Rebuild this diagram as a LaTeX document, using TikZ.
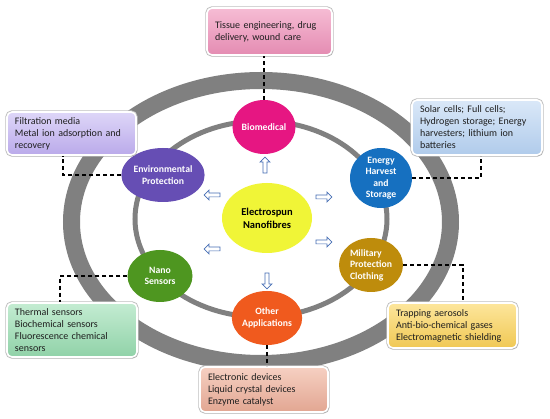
\documentclass[tikz,border=0pt]{standalone}
\usepackage{fontspec}
\setmainfont{Carlito}
\usetikzlibrary{shapes.geometric,shapes.arrows,shadows}
\definecolor{ringgray}{RGB}{128,128,128}
\definecolor{cBio}{RGB}{230,22,130}
\definecolor{cEnv}{RGB}{102,78,180}
\definecolor{cEne}{RGB}{22,112,192}
\definecolor{cMil}{RGB}{190,140,12}
\definecolor{cNano}{RGB}{78,150,32}
\definecolor{cOther}{RGB}{240,90,30}
\definecolor{cCenter}{RGB}{240,245,55}
\definecolor{arrowblue}{RGB}{70,110,180}
\definecolor{txt}{RGB}{30,30,30}
\begin{document}
\begin{tikzpicture}[x=1pt,y=-1pt,
  blob/.style={ellipse, inner sep=0pt, text=white, align=center,
    font=\fontsize{9.7}{11.5}\selectfont\bfseries},
  infobox/.style={rounded corners=5pt, draw=white, line width=1.6pt,
    inner xsep=8pt, inner ysep=0pt, align=left, text=txt,
    font=\fontsize{10}{12}\selectfont,
    preaction={draw=black!25, line width=3.4pt},
    drop shadow={shadow xshift=0.8pt, shadow yshift=-1.4pt, opacity=0.3, fill=gray}},
  blockarrow/.style={single arrow, draw=arrowblue, fill=white, line width=0.7pt,
    minimum height=16pt, minimum width=10pt, single arrow head extend=2.2pt, inner sep=1pt},
  link/.style={black, line width=1.1pt, dash pattern=on 4pt off 3pt}]
\useasboundingbox (0,0) rectangle (550,419);
\fill[white] (0,0) rectangle (550,419);

% rings
\draw[ringgray, line width=17pt] (261,222) ellipse [x radius=189.5, y radius=141.5];
\draw[ringgray, line width=5pt] (261,219) ellipse [x radius=126, y radius=98];

% application nodes
\node[blob, fill=cBio, minimum width=58pt, minimum height=54pt] (bio) at (264,127) {Biomedical};
\node[blob, fill=cEnv, minimum width=63pt, minimum height=54pt] (env) at (163,175) {Environmental\\Protection};
\node[blob, fill=cEne, minimum width=62pt, minimum height=58pt] (ene) at (381,178) {Energy\\Harvest\\and\\Storage};
\node[blob, fill=cMil, minimum width=64pt, minimum height=54pt, align=left] (mil) at (371,265) {Military\\Protection\\Clothing};
\node[blob, fill=cNano, minimum width=65pt, minimum height=52pt] (nano) at (160,276) {Nano\\Sensors};
\node[blob, fill=cOther, minimum width=64pt, minimum height=54pt] (other) at (267,318) {Other\\Applications};
\node[ellipse, fill=cCenter, inner sep=0pt, minimum width=90pt, minimum height=70pt, align=center,
  font=\fontsize{10.5}{13}\selectfont\bfseries] (center) at (267,218) {Electrospun\\Nanofibres};

% block arrows
\node[blockarrow, shape border rotate=90] (a1) at (265,166) {};
\node[blockarrow, shape border rotate=270] (a2) at (267,280) {};
\node[blockarrow, shape border rotate=150] (a3) at (213,195) {};
\node[blockarrow, shape border rotate=205] (a4) at (213,249) {};
\node[blockarrow, shape border rotate=15] (a5) at (323,197) {};
\node[blockarrow, shape border rotate=-30] (a6) at (323,242) {};

% info boxes
\node[infobox, top color={rgb,255:red,246;green,188;blue,212}, bottom color={rgb,255:red,228;green,140;blue,178},
  minimum width=125pt, minimum height=47pt, text width=109pt] (bbio) at (269.5,31.5)
  {Tissue engineering, drug\\delivery, wound care};
\node[infobox, top color={rgb,255:red,222;green,214;blue,248}, bottom color={rgb,255:red,186;green,170;blue,234},
  minimum width=129pt, minimum height=43pt, text width=113pt] (benv) at (71.5,133.5)
  {Filtration media\\Metal ion adsorption and\\recovery};
\node[infobox, top color={rgb,255:red,218;green,232;blue,248}, bottom color={rgb,255:red,176;green,203;blue,235},
  minimum width=130pt, minimum height=55pt, text width=114pt] (bene) at (477,127.5)
  {Solar cells; Full cells;\\Hydrogen storage; Energy\\harvesters; lithium ion\\batteries};
\node[infobox, top color={rgb,255:red,253;green,230;blue,156}, bottom color={rgb,255:red,240;green,200;blue,84},
  minimum width=129pt, minimum height=45pt, text width=113pt] (bmil) at (452.5,325.5)
  {Trapping aerosols\\Anti-bio-chemical gases\\Electromagnetic shielding};
\node[infobox, top color={rgb,255:red,196;green,236;blue,210}, bottom color={rgb,255:red,144;green,210;blue,168},
  minimum width=130pt, minimum height=54pt, text width=114pt] (bnano) at (72,330)
  {Thermal sensors\\Biochemical sensors\\Fluorescence chemical\\sensors};
\node[infobox, top color={rgb,255:red,246;green,208;blue,194}, bottom color={rgb,255:red,226;green,166;blue,146},
  minimum width=128pt, minimum height=45pt, text width=112pt] (bother) at (264,389.5)
  {Electronic devices\\Liquid crystal devices\\Enzyme catalyst};

% dashed links
\coordinate (kenv) at ([xshift=-8.5pt]benv.south);
\coordinate (kene) at ([xshift=4pt]bene.south);
\coordinate (kmil) at ([xshift=10.5pt]bmil.north);
\coordinate (knano) at ([xshift=-12pt]bnano.north);
\draw[link] (bio.north) -- (bio.north |- bbio.south);
\draw[link] (env.west) -| (kenv);
\draw[link] (ene.east) -| (kene);
\draw[link] (mil.east) -| (kmil);
\draw[link] (nano.west) -| (knano);
\draw[link] (other.south) -- (other.south |- bother.north);
\end{tikzpicture}
\end{document}
